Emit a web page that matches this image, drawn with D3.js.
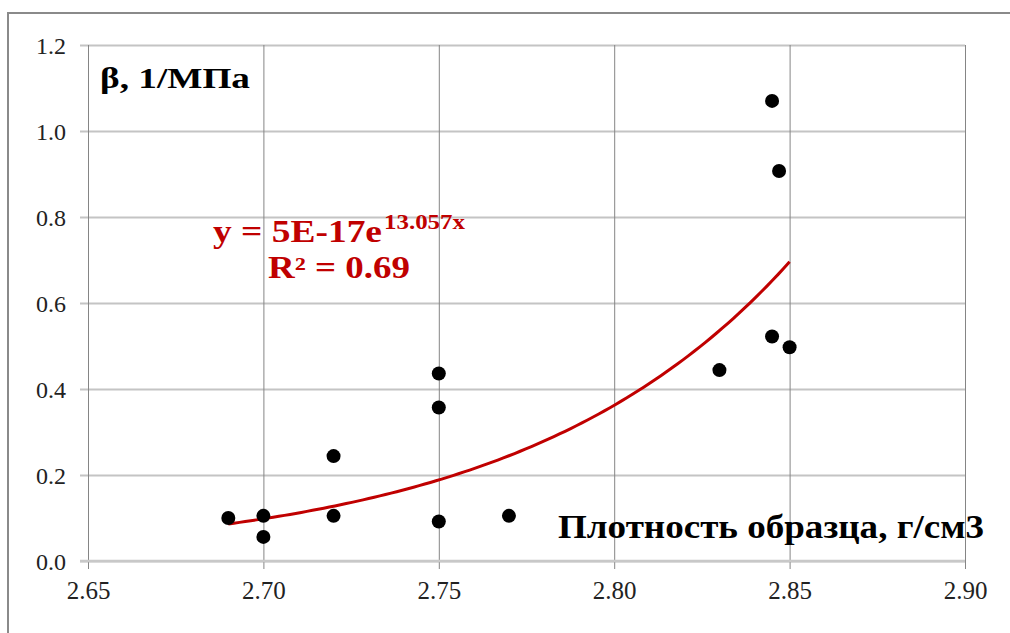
<!DOCTYPE html>
<html>
<head>
<meta charset="utf-8">
<script src="https://cdn.jsdelivr.net/npm/d3@7"></script>
<style>
  html, body { margin: 0; padding: 0; background: #fff; }
  svg { display: block; }
</style>
</head>
<body>
<svg id="chart" width="1010" height="633"></svg>
<script>
// Sample density (g/cm3) and compressibility beta (1/MPa)
const density = [2.69, 2.70, 2.70, 2.72, 2.72, 2.75, 2.75, 2.75, 2.77, 2.83, 2.845, 2.847, 2.845, 2.85];
const beta    = [0.100, 0.105, 0.056, 0.244, 0.105, 0.436, 0.357, 0.092, 0.105, 0.444, 1.070, 0.907, 0.522, 0.497];

// Exponential trendline y = a * e^(b x)
const trendA = 4.8e-17;
const trendB = 13.057;
const trendR2 = 0.69;
const trendRange = [2.69, 2.85];

const xTicks = [2.65, 2.70, 2.75, 2.80, 2.85, 2.90];
const yTicks = [0.0, 0.2, 0.4, 0.6, 0.8, 1.0, 1.2];

const yLabel = "β, 1/МПа";
const xLabel = "Плотность образца, г/см3";

const serif = "'Liberation Serif', 'Times New Roman', serif";
const svg = d3.select("#chart");

// outer frame
svg.append("rect")
  .attr("x", 8).attr("y", 13)
  .attr("width", 1020).attr("height", 640)
  .attr("fill", "none").attr("stroke", "#8a8a8a").attr("stroke-width", 2);

const x = d3.scaleLinear().domain([2.65, 2.90]).range([88, 965]);
const y = d3.scaleLinear().domain([0, 1.2]).range([561, 45]);

// horizontal grid lines with left tick stubs
const yAxis = d3.axisLeft(y)
  .tickValues(yTicks)
  .tickSize(965 - 80)
  .tickSizeOuter(0)
  .tickFormat(d3.format(".1f"));
const gy = svg.append("g").attr("transform", "translate(965,0)").call(yAxis);
gy.select(".domain").remove();
gy.selectAll(".tick line").attr("stroke", "#c4c4c4").attr("stroke-width", 2);
gy.selectAll(".tick text")
  .attr("x", -(965 - 66))
  .attr("dy", "0.35em")
  .attr("fill", "#222")
  .style("font-family", serif)
  .style("font-size", "24px");

// vertical grid lines extending below the axis
const xAxis = d3.axisBottom(x)
  .tickValues(xTicks)
  .tickSize(569 - 45)
  .tickSizeOuter(0)
  .tickFormat(d3.format(".2f"));
const gx = svg.append("g").attr("transform", "translate(0,45)").call(xAxis);
gx.select(".domain").remove();
gx.selectAll(".tick line").attr("stroke", "#858585").attr("stroke-width", 1);
gx.selectAll(".tick text")
  .attr("y", 569 - 45 + 12)
  .attr("dy", "0.71em")
  .attr("fill", "#222")
  .style("font-family", serif)
  .style("font-size", "25px");

// zero line drawn over the verticals
svg.append("line")
  .attr("x1", 80).attr("x2", 965)
  .attr("y1", y(0)).attr("y2", y(0))
  .attr("stroke", "#c8c8c8").attr("stroke-width", 2.5);

// trendline
const trendPts = d3.range(0, 101).map(i => {
  const xv = trendRange[0] + (trendRange[1] - trendRange[0]) * i / 100;
  return [xv, trendA * Math.exp(trendB * xv)];
});
svg.append("path")
  .datum(trendPts)
  .attr("d", d3.line().x(d => x(d[0])).y(d => y(d[1])))
  .attr("fill", "none")
  .attr("stroke", "#c00000")
  .attr("stroke-width", 3);

// data points
svg.append("g").selectAll("circle")
  .data(density.map((d, i) => [d, beta[i]]))
  .join("circle")
  .attr("cx", d => x(d[0]))
  .attr("cy", d => y(d[1]))
  .attr("r", 7)
  .attr("fill", "#000");

// bold serif text helper
function label(xp, yp, size, len, color, str) {
  return svg.append("text")
    .attr("x", xp).attr("y", yp)
    .style("font-family", serif)
    .style("font-weight", "bold")
    .style("font-size", size + "px")
    .attr("textLength", len)
    .attr("lengthAdjust", "spacingAndGlyphs")
    .attr("fill", color)
    .text(str);
}

// axis titles
label(100, 88, 30, 150, "#000", yLabel);
label(558, 538, 33, 426, "#000", xLabel);

// trendline equation
const coef = trendA.toExponential(0).toUpperCase();
label(213, 242, 31, 169, "#c00000", "y = " + coef + "e");
label(384, 229, 20, 81, "#c00000", trendB.toFixed(3) + "x");
label(268, 278, 31, 142, "#c00000", "R² = " + trendR2.toFixed(2));
</script>
</body>
</html>
